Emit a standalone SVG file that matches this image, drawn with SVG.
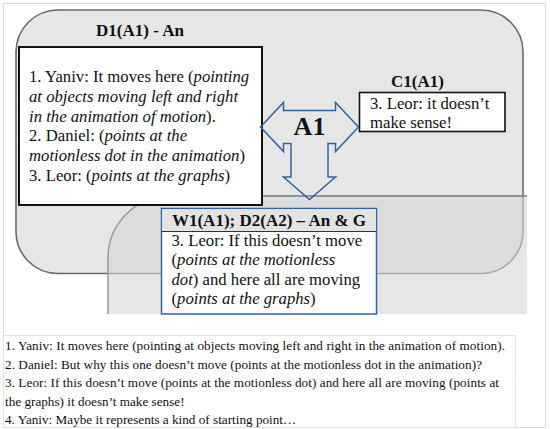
<svg xmlns="http://www.w3.org/2000/svg" width="550" height="429" viewBox="0 0 550 429">
<style>
text{font-family:"Liberation Serif","Times New Roman",serif;fill:#111}
.t{font-size:17px;font-weight:bold}
.b{font-size:16.7px}
.s{font-size:13.2px}
.i{font-style:italic}
</style>
<rect x="0" y="0" width="550" height="429" fill="#ffffff"/>
<rect x="3.5" y="3.5" width="542" height="424" fill="none" stroke="#dcdcdc" stroke-width="1"/>
<g id="regionD1">
<rect x="16" y="10" width="507" height="263.5" rx="42" ry="42" fill="#e6e6e6" stroke="#6b6b6b" stroke-width="1.6"/>
</g>
<g id="regionW">
<path d="M527,196 H170 A62,62 0 0 0 108,258 V314 H527 Z" fill="#d5d5d5" fill-opacity="0.6" stroke="none"/>
<path d="M527,196 H170" fill="none" stroke="#777" stroke-width="1.5"/>
<path d="M170,196 A62,62 0 0 0 108,258 V314" fill="none" stroke="#999" stroke-width="1.5"/>
</g>
<g id="D1">
<text class="t" x="140" y="36" text-anchor="middle">D1(A1) - An</text>
<rect x="19" y="47" width="243" height="158" fill="#fff" stroke="#111" stroke-width="2"/>
<text class="b" x="29" y="82">1. Yaniv: It moves here (<tspan class="i">pointing</tspan></text>
<text class="b i" x="29" y="101.8">at objects moving left and right</text>
<text class="b" x="29" y="121.6"><tspan class="i">in the animation of motion</tspan>).</text>
<text class="b" x="29" y="141.4">2. Daniel: (<tspan class="i">points at the</tspan></text>
<text class="b" x="29" y="161.2"><tspan class="i">motionless dot in the animation</tspan>)</text>
<text class="b" x="29" y="181">3. Leor: (<tspan class="i">points at the graphs</tspan>)</text>
</g>
<g id="C1">
<text class="t" x="417.5" y="87" text-anchor="middle">C1(A1)</text>
<rect x="359.5" y="92.5" width="145.5" height="39" fill="#fff" stroke="#111" stroke-width="1.6"/>
<text class="b" x="370" y="108.5">3. Leor: it doesn’t</text>
<text class="b" x="370" y="128">make sense!</text>
</g>
<g id="W1">
<rect x="161.5" y="208.5" width="215" height="105.5" fill="#fff" stroke="#2e63a6" stroke-width="1.5"/>
<rect x="162.25" y="209.25" width="213.5" height="22.25" fill="#e3e3e3"/>
<line x1="162" y1="231.5" x2="376" y2="231.5" stroke="#333" stroke-width="1"/>
<text class="t" x="269" y="225.5" text-anchor="middle">W1(A1); D2(A2) – An &amp; G</text>
<text class="b" x="171.5" y="245.5">3. Leor: If this doesn’t move</text>
<text class="b" x="171.5" y="265">(<tspan class="i">points at the motionless</tspan></text>
<text class="b" x="171.5" y="284.5"><tspan class="i">dot</tspan>) and here all are moving</text>
<text class="b" x="171.5" y="304">(<tspan class="i">points at the graphs</tspan>)</text>
</g>
<g id="connectors">
<path d="M260.5,127 L283.5,102.5 V110.5 H335.5 V102.5 L358.5,127 L335.5,151.5 V143.5 H328 V177 H335.5 L309.5,199.5 L283.5,177 H291 V143.5 H283.5 V151.5 Z" fill="none" stroke="#2e63a6" stroke-width="1.5" stroke-linejoin="miter"/>
<text x="309.5" y="135" text-anchor="middle" style="font-size:26px;font-weight:bold">A1</text>
</g>
<g id="transcript">
<rect x="3.5" y="335.5" width="512" height="92" fill="#fff" stroke="#e4e4e4" stroke-width="1"/>
<text class="s" x="5" y="350" textLength="500">1. Yaniv: It moves here (pointing at objects moving left and right in the animation of motion).</text>
<text class="s" x="5" y="368.5" textLength="477">2. Daniel: But why this one doesn’t move (points at the motionless dot in the animation)?</text>
<text class="s" x="5" y="387" textLength="494">3. Leor: If this doesn’t move (points at the motionless dot) and here all are moving (points at</text>
<text class="s" x="5" y="405.5">the graphs) it doesn’t make sense!</text>
<text class="s" x="5" y="424">4. Yaniv: Maybe it represents a kind of starting point…</text>
</g>
</svg>
